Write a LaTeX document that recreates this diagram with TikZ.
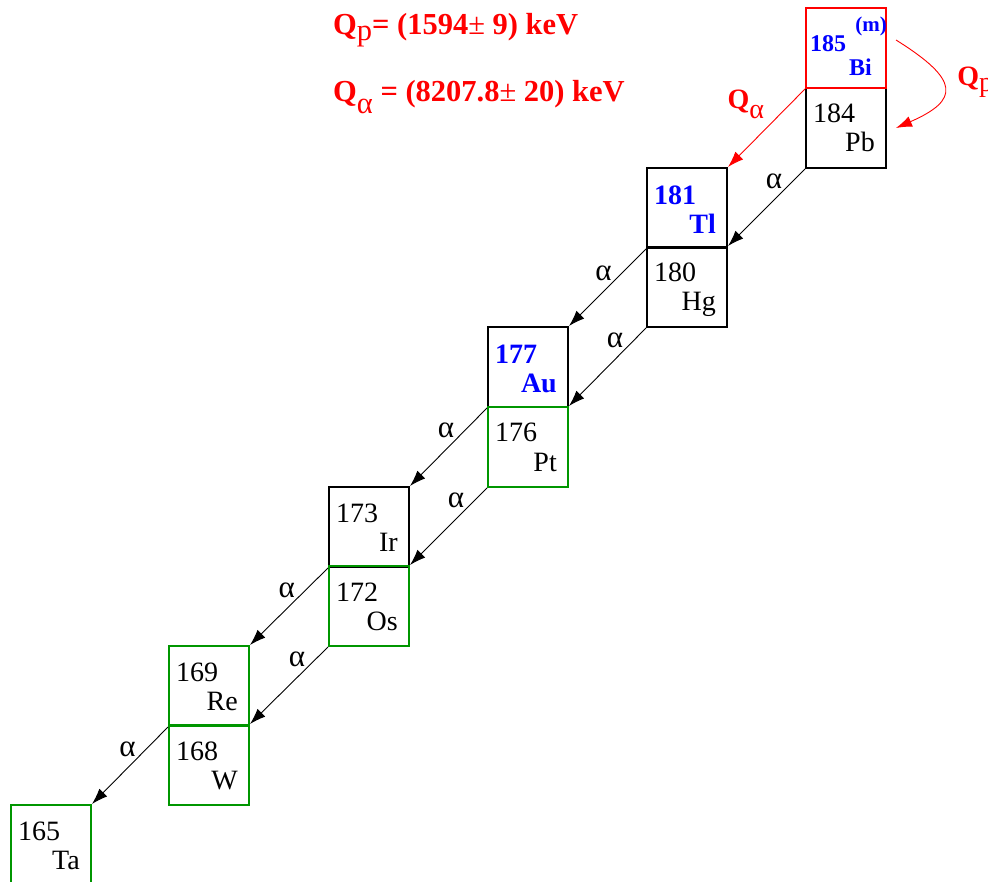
\documentclass[tikz,border=0pt]{standalone}
\usepackage{fontspec}
\setmainfont{Liberation Serif}
\usetikzlibrary{positioning,arrows.meta}
\definecolor{nucgreen}{RGB}{0,150,0}
\tikzset{
  nuc/.style={draw, line width=2pt, minimum size=80pt, inner sep=0pt},
  mass/.style={anchor=base west, inner sep=0pt, xshift=8pt, yshift=-36pt},
  elem/.style={anchor=base east, inner sep=0pt, xshift=-12pt, yshift=17pt},
  bmass/.style={mass, text=blue, font=\fontsize{28}{28}\selectfont\bfseries, yshift=-2pt},
  belem/.style={elem, text=blue, font=\fontsize{28}{28}\selectfont\bfseries, yshift=-2pt},
  decay/.style={-{Latex[length=16pt,width=11pt]}, line width=0.9pt},
  qdecay/.style={decay, red},
  alab/.style={anchor=east, inner sep=0pt, xshift=-10pt, font=\fontsize{31}{31}\selectfont},
  qlab/.style={text=red, font=\fontsize{28}{28}\selectfont\bfseries, inner sep=0pt},
  qval/.style={qlab, anchor=base west, font=\fontsize{30.5}{30.5}\selectfont\bfseries}
}

\begin{document}
\begin{tikzpicture}[x=1pt, y=-1pt, every node/.style={font=\fontsize{28}{28}\selectfont}]
  \useasboundingbox (0,0) rectangle (988,882);

  % Q values
  \node[qval] (qpval) at (333,35) {Q\raisebox{-6pt}{\mdseries p}= (1594{\mdseries ±} 9) keV};
  \node[qval] (qaval) at (333,102) {Q\raisebox{-12pt}{\mdseries α} = (8207.8{\mdseries ±} 20) keV};

  % decay chain
  \node[nuc, label={[mass]north west:184}, label={[elem]south east:Pb}] (pb) at (846,128) {};
  \node[nuc, draw=red,
        label={[bmass, font=\fontsize{24}{24}\selectfont\bfseries, xshift=-3pt, yshift=-7pt]north west:185},
        label={[belem, font=\fontsize{24}{24}\selectfont\bfseries, xshift=-3pt, yshift=-2pt]south east:Bi},
        label={[anchor=base east, inner sep=0pt, text=blue, font=\fontsize{21}{21}\selectfont\bfseries, yshift=-25pt]north east:(m)}] (bi) at (846,48) {};
  \node[nuc, label={[bmass]north west:181}, label={[belem]south east:Tl}] (tl) at (687,208) {};
  \node[nuc, label={[mass]north west:180}, label={[elem]south east:Hg}] (hg) at (687,287) {};
  \node[nuc, label={[bmass]north west:177}, label={[belem]south east:Au}] (au) at (528,367) {};
  \node[nuc, draw=nucgreen, label={[mass]north west:176}, label={[elem]south east:Pt}] (pt) at (528,447) {};
  \node[nuc, label={[mass]north west:173}, label={[elem]south east:Ir}] (ir) at (369,527) {};
  \node[nuc, draw=nucgreen, label={[mass]north west:172}, label={[elem]south east:Os}] (os) at (369,606) {};
  \node[nuc, draw=nucgreen, label={[mass]north west:169}, label={[elem]south east:Re}] (re) at (209,686) {};
  \node[nuc, draw=nucgreen, label={[mass]north west:168}, label={[elem]south east:W}] (w) at (209,765) {};
  \node[nuc, draw=nucgreen, label={[mass]north west:165}, label={[elem]south east:Ta}] (ta) at (51,845) {};

  % alpha decays
  \draw[decay] (pb.south west) -- node[alab, pos=0.16] {α} (hg.north east);
  \draw[decay] (tl.south west) -- node[alab, pos=0.31] {α} (au.north east);
  \draw[decay] (hg.south west) -- node[alab, pos=0.16] {α} (pt.north east);
  \draw[decay] (au.south west) -- node[alab, pos=0.29] {α} (ir.north east);
  \draw[decay] (pt.south west) -- node[alab, pos=0.16] {α} (os.north east);
  \draw[decay] (ir.south west) -- node[alab, pos=0.29] {α} (re.north east);
  \draw[decay] (os.south west) -- node[alab, pos=0.16] {α} (w.north east);
  \draw[decay] (re.south west) -- node[alab, pos=0.29] {α} (ta.north east);

  % Bi decays
  \draw[qdecay] (bi.south west) -- node[qlab, pos=0.2, anchor=east, xshift=-25pt] {Q\raisebox{-10pt}{\mdseries α}} (tl.north east);
  \draw[qdecay] ([shift={(9,-8)}]bi.east) .. controls (960,80) and (960,100) .. node[qlab, pos=0.5, anchor=west, xshift=13pt, yshift=6pt] {Q\raisebox{-6pt}{\mdseries p}} ([xshift=9pt]pb.east);
\end{tikzpicture}
\end{document}
